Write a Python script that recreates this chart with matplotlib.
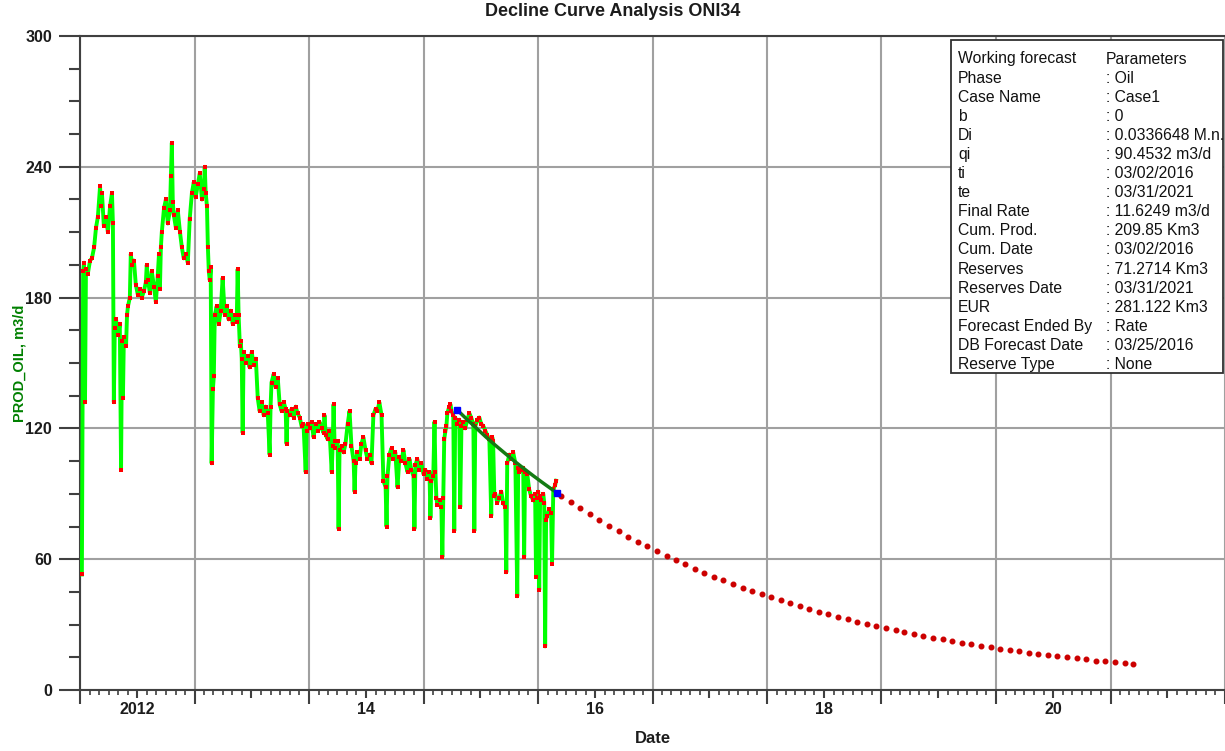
import matplotlib
matplotlib.use("Agg")
import matplotlib.pyplot as plt
import matplotlib.dates as mdates
import matplotlib.patches as patches
from matplotlib.ticker import MultipleLocator, NullFormatter, FuncFormatter
import pandas as pd

plt.rcParams['font.family'] = ['Liberation Sans', 'DejaVu Sans']

START = pd.Timestamp("2012-01-01")

# daily oil rate history (days since 2012-01-01, m3/d)
hist_day = [
    6, 10, 13, 16, 19, 25, 32, 38, 45, 51,
    57, 64, 67, 70, 76, 83, 89, 96, 102, 105,
    108, 111, 115, 121, 127, 131, 134, 137, 140, 147,
    150, 153, 159, 162, 166, 172, 178, 185, 191, 197,
    204, 210, 213, 217, 223, 229, 236, 242, 248, 252,
    255, 258, 261, 268, 274, 280, 287, 290, 293, 296,
    299, 306, 312, 319, 325, 331, 338, 344, 350, 357,
    363, 369, 376, 382, 389, 395, 398, 401, 405, 408,
    411, 414, 417, 420, 424, 427, 430, 436, 443, 449,
    455, 462, 468, 474, 481, 487, 494, 500, 503, 506,
    510, 513, 516, 519, 522, 529, 535, 541, 548, 554,
    561, 567, 573, 580, 586, 592, 599, 605, 608, 611,
    618, 624, 631, 637, 643, 650, 656, 659, 662, 669,
    675, 682, 688, 694, 701, 707, 713, 720, 723, 726,
    733, 739, 745, 752, 758, 764, 771, 777, 780, 784,
    790, 796, 803, 806, 809, 812, 815, 822, 825, 828,
    835, 841, 847, 854, 860, 866, 873, 876, 879, 885,
    892, 898, 904, 911, 917, 924, 930, 936, 943, 949,
    955, 962, 968, 975, 978, 981, 987, 994, 1000, 1006,
    1013, 1019, 1025, 1032, 1038, 1045, 1051, 1057, 1064, 1067,
    1070, 1076, 1083, 1089, 1096, 1102, 1108, 1115, 1118, 1121,
    1127, 1131, 1134, 1137, 1140, 1147, 1153, 1156, 1159, 1162,
    1166, 1169, 1172, 1178, 1182, 1185, 1191, 1194, 1197, 1204,
    1210, 1213, 1217, 1223, 1229, 1236, 1242, 1248, 1255, 1258,
    1261, 1268, 1274, 1280, 1287, 1293, 1299, 1306, 1312, 1315,
    1318, 1322, 1325, 1331, 1338, 1344, 1350, 1357, 1360, 1363,
    1370, 1376, 1382, 1389, 1395, 1398, 1401, 1408, 1414, 1417,
    1420, 1427, 1433, 1439, 1446, 1452, 1455, 1458, 1462, 1465,
    1468, 1471, 1478, 1481, 1484, 1487, 1490, 1497, 1503, 1506,
    1510, 1516, 1519,
]
hist_rate = [
    53, 192, 196, 132, 193, 191, 197, 198, 203, 212,
    217, 231, 222, 228, 213, 217, 210, 222, 228, 214,
    132, 166, 170, 163, 168, 101, 160, 134, 162, 158,
    172, 176, 180, 200, 195, 197, 186, 181, 184, 180,
    183, 187, 195, 188, 182, 192, 185, 178, 190, 200,
    184, 203, 210, 221, 225, 214, 220, 236, 251, 224,
    218, 212, 220, 210, 203, 198, 200, 196, 216, 228,
    233, 226, 232, 237, 225, 230, 240, 228, 222, 203,
    192, 188, 194, 104, 138, 144, 172, 176, 168, 174,
    189, 172, 176, 170, 174, 168, 172, 169, 193, 172,
    158, 160, 152, 118, 155, 150, 153, 148, 155, 149,
    152, 134, 128, 132, 126, 130, 127, 108, 130, 141,
    145, 139, 143, 131, 128, 132, 129, 113, 128, 126,
    129, 125, 130, 127, 125, 121, 122, 100, 119, 122,
    120, 123, 116, 122, 119, 123, 120, 118, 126, 117,
    115, 119, 100, 112, 131, 114, 111, 114, 74, 110,
    112, 109, 113, 122, 128, 112, 105, 91, 104, 109,
    106, 113, 116, 110, 106, 108, 104, 126, 129, 128,
    132, 126, 96, 93, 75, 98, 108, 111, 106, 109,
    93, 107, 105, 110, 104, 100, 106, 101, 98, 74,
    103, 106, 101, 104, 99, 101, 97, 100, 79, 96,
    98, 123, 100, 88, 85, 87, 84, 61, 88, 115,
    119, 121, 127, 130, 131, 128, 126, 73, 125, 122,
    124, 84, 121, 123, 120, 124, 127, 125, 122, 73,
    121, 124, 125, 122, 121, 119, 117, 115, 80, 116,
    114, 89, 90, 86, 88, 91, 86, 84, 54, 104,
    108, 106, 109, 104, 43, 102, 100, 101, 102, 61,
    100, 99, 92, 89, 87, 90, 52, 88, 91, 46,
    89, 87, 90, 86, 20, 78, 80, 83, 81, 58,
    92, 94, 96,
]

# fitted decline segment and its end points
fit_day = [1204, 1234, 1264, 1294, 1324, 1354, 1384, 1414, 1444, 1474, 1504, 1522]
fit_rate = [128.4, 124.2, 120.2, 116.2, 112.4, 108.8, 105.2, 101.8, 98.5, 95.3, 92.2, 90.5]
anchor_day = [1204, 1522]
anchor_rate = [128.4, 90.45]

# monthly forecast (mid-month), m3/d
forecast_first = "2016-03-01"
forecast_rate = [
    89.2, 86.2, 83.4, 80.6, 77.9, 75.4, 72.9, 70.4, 68.1, 65.9,
    63.7, 61.6, 59.5, 57.6, 55.7, 53.8, 52.0, 50.3, 48.6, 47.0,
    45.5, 44.0, 42.5, 41.1, 39.8, 38.4, 37.2, 35.9, 34.7, 33.6,
    32.5, 31.4, 30.4, 29.4, 28.4, 27.5, 26.5, 25.7, 24.8, 24.0,
    23.2, 22.4, 21.7, 21.0, 20.3, 19.6, 19.0, 18.3, 17.7, 17.1,
    16.6, 16.0, 15.5, 15.0, 14.5, 14.0, 13.5, 13.1, 12.7, 12.2,
    11.8,
]

legend_keys = ["Working forecast", "Phase", "Case Name", "b", "Di", "qi", "ti", "te",
               "Final Rate", "Cum. Prod.", "Cum. Date", "Reserves", "Reserves Date",
               "EUR", "Forecast Ended By", "DB Forecast Date", "Reserve Type"]
legend_vals = ["Parameters", ": Oil", ": Case1", ": 0", ": 0.0336648 M.n.",
               ": 90.4532 m3/d", ": 03/02/2016", ": 03/31/2021", ": 11.6249 m3/d",
               ": 209.85 Km3", ": 03/02/2016", ": 71.2714 Km3", ": 03/31/2021",
               ": 281.122 Km3", ": Rate", ": 03/25/2016", ": None"]

hist_dates = START + pd.to_timedelta(hist_day, unit="D")
fit_dates = START + pd.to_timedelta(fit_day, unit="D")
anchor_dates = START + pd.to_timedelta(anchor_day, unit="D")
fc_dates = pd.date_range(forecast_first, periods=len(forecast_rate), freq="MS") + pd.Timedelta(days=14)

W, H = 1225, 751
fig = plt.figure(figsize=(W / 100, H / 100), dpi=100)
ax = fig.add_axes([80 / W, 61 / H, 1145 / W, 654 / H])

ax.plot(hist_dates, hist_rate, color="#00ff00", lw=2.8, marker="s", ms=2.6,
        mfc="#ff0000", mec="#ff0000", mew=0, zorder=3)
ax.plot(fit_dates, fit_rate, color="#137a13", lw=2.5, zorder=4)
ax.plot(anchor_dates, anchor_rate, ls="none", marker="s", ms=5, color="#0000ff", zorder=5)
ax.plot(fc_dates, forecast_rate, ls="none", marker="o", ms=3.3, color="#cc0000", zorder=4)

ax.set_xlim(pd.Timestamp("2012-01-01"), pd.Timestamp("2022-01-01"))
ax.set_ylim(0, 300)

tick_col = "#1c1c1c"
spine_col = "#404040"

# x: long ticks at Jan 1 (grid), medium at Jul 1 (labels), small monthly
ax.xaxis.set_major_locator(mdates.YearLocator())
ax.xaxis.set_major_formatter(NullFormatter())
ax.xaxis.set_minor_locator(mdates.MonthLocator(bymonth=7))


def year_label(x, pos):
    yr = mdates.num2date(x).year
    if yr % 2:
        return ""
    return str(yr) if yr == 2012 else "%02d" % (yr % 100)


ax.xaxis.set_minor_formatter(FuncFormatter(year_label))
ax.tick_params(axis="x", which="major", length=10, width=1.5, color=spine_col)
ax.tick_params(axis="x", which="minor", length=6, width=1.5, color=spine_col,
               labelsize=11.5, pad=3, labelcolor=tick_col)
for lbl in ax.xaxis.get_minorticklabels():
    lbl.set_fontweight("bold")

ax2 = ax.twiny()
ax2.set_xlim(ax.get_xlim())
ax2.xaxis.set_ticks_position("bottom")
ax2.xaxis.set_major_locator(mdates.MonthLocator())
ax2.xaxis.set_major_formatter(NullFormatter())
ax2.tick_params(axis="x", length=3.5, width=1.2, color=spine_col)
for s in ax2.spines.values():
    s.set_visible(False)
ax2.patch.set_visible(False)

# y ticks
ax.yaxis.set_major_locator(MultipleLocator(60))
ax.yaxis.set_minor_locator(MultipleLocator(15))
ax.tick_params(axis="y", which="major", length=15, width=1.5, color=spine_col,
               labelsize=11.5, pad=5, labelcolor=tick_col)
ax.tick_params(axis="y", which="minor", length=8, width=1.5, color=spine_col)
for lbl in ax.get_yticklabels():
    lbl.set_fontweight("bold")

ax.grid(True, which="major", color="#a0a0a0", lw=1.5)
ax.set_axisbelow(True)
for side in ("left", "bottom", "top"):
    ax.spines[side].set_color(spine_col)
    ax.spines[side].set_linewidth(1.5)
ax.spines["right"].set_visible(False)

ax.set_xlabel("Date", fontsize=12, fontweight="bold", color=tick_col)
ax.xaxis.set_label_coords(0.5, -0.063)
ax.set_ylabel("PROD_OIL, m3/d", fontsize=10.5, fontweight="bold", color="#008000")
ax.yaxis.set_label_coords(-0.047, 0.5)

fig.text(0.5, 1 - 12 / H, "Decline Curve Analysis ONI34", ha="center", va="center",
         fontsize=13, fontweight="bold", color=tick_col)

# parameter box
bx0, bx1, by0, by1 = 951, 1223, 40, 373
fig.add_artist(patches.Rectangle((bx0 / W, 1 - by1 / H), (bx1 - bx0) / W, (by1 - by0) / H,
                                 transform=fig.transFigure, fc="white", ec="#303030",
                                 lw=1.3, zorder=10))
for i, (k, v) in enumerate(zip(legend_keys, legend_vals)):
    yy = 1 - (59 + 19.1 * i) / H
    fig.text(958 / W, yy, k, ha="left", va="center", fontsize=11.3, color="#111111", zorder=11)
    fig.text(1106 / W, yy, v, ha="left", va="center", fontsize=11.3, color="#111111", zorder=11)

fig.savefig("out.png", dpi=100)
